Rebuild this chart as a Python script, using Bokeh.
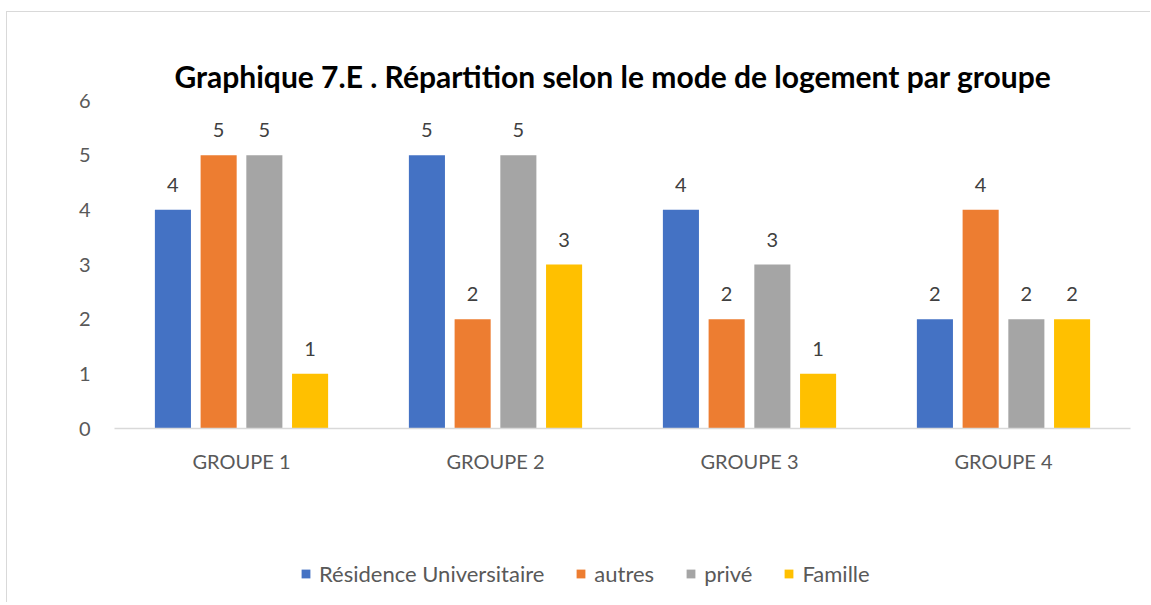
from bokeh.plotting import figure
from bokeh.models import ColumnDataSource, FactorRange, Legend, LegendItem, FixedTicker
from bokeh.layouts import column
from bokeh.transform import dodge
from bokeh.core.properties import value
from bokeh.embed import file_html
from bokeh.resources import INLINE

groups = ["GROUPE 1", "GROUPE 2", "GROUPE 3", "GROUPE 4"]
series = ["Résidence Universitaire", "autres", "privé", "Famille"]
residence = [4, 5, 4, 2]
autres = [5, 2, 2, 4]
prive = [5, 5, 3, 2]
famille = [1, 3, 1, 2]
colors = ["#4472C4", "#ED7D31", "#A5A5A5", "#FFC000"]
y_ticks = [0, 1, 2, 3, 4, 5, 6]
title_text = "Graphique 7.E . Répartition selon le mode de logement par groupe"

cols = ["residence", "autres", "prive", "famille"]
data = dict(groups=groups, residence=residence, autres=autres, prive=prive, famille=famille)
for c in cols:
    data[c + "_lbl"] = [str(v) for v in data[c]]
source = ColumnDataSource(data)

FONT = "Lato"
W = 1143
H1 = 500
H2 = 90
p = figure(width=W, height=H1, x_range=FactorRange(*groups, range_padding=0),
           y_range=(0, 6), output_backend="svg", toolbar_location=None,
           min_border_left=107, min_border_right=20, min_border_top=88, min_border_bottom=H1 - 416)

p.title.text = title_text
p.title.align = "left"
p.title.offset = 60
p.title.text_font = FONT
p.title.text_font_size = "30px"
p.title.text_font_style = "bold"
p.title.text_color = "#000000"
p.title.standoff = 13

p.outline_line_color = None
p.xgrid.grid_line_color = None
p.ygrid.grid_line_color = None

offsets = [-0.27, -0.09, 0.09, 0.27]
for c, off, col in zip(cols, offsets, colors):
    p.vbar(x=dodge("groups", off, range=p.x_range), top=c, width=0.142,
           source=source, fill_color=col, line_color=None)
    p.text(x=dodge("groups", off, range=p.x_range), y=c, text=c + "_lbl", source=source,
           text_align="center", text_baseline="bottom", y_offset=-18,
           text_font=value(FONT), text_font_size="20px", text_color="#404040")

p.yaxis.ticker = FixedTicker(ticks=y_ticks)
p.yaxis.axis_line_color = None
p.yaxis.major_tick_line_color = None
p.yaxis.minor_tick_line_color = None
p.yaxis.major_label_standoff = 18
p.yaxis.major_label_text_font = FONT
p.yaxis.major_label_text_font_size = "20px"
p.yaxis.major_label_text_color = "#595959"

p.xaxis.axis_line_color = "#d9d9d9"
p.xaxis.axis_line_width = 1.5
p.xaxis.major_tick_line_color = None
p.xaxis.minor_tick_line_color = None
p.xaxis.major_label_standoff = 14
p.xaxis.major_label_text_font = FONT
p.xaxis.major_label_text_font_size = "20px"
p.xaxis.major_label_text_color = "#595959"

# legend strip below the chart (zero-height bars only carry the legend colours)
legend_src = ColumnDataSource(dict(series=series, color=colors,
                                   x=[0.5] * len(series), top=[0] * len(series)))
q = figure(width=W, height=H2, x_range=(0, 1), y_range=(0, 1), output_backend="svg",
           toolbar_location=None, x_axis_location=None, y_axis_location=None,
           min_border=0, min_border_left=0, min_border_right=0, min_border_top=0,
           min_border_bottom=0)
q.outline_line_color = None
q.grid.visible = False
r = q.vbar(x="x", top="top", width=0.001, fill_color="color", line_color=None,
           source=legend_src)
items = [LegendItem(label=name, renderers=[r], index=i) for i, name in enumerate(series)]
legend = Legend(items=items, orientation="horizontal", location=(186, 15),
                glyph_width=11, glyph_height=11, label_standoff=8, spacing=31,
                label_height=20, padding=0, margin=0, border_line_color=None,
                background_fill_alpha=0, label_text_font=FONT,
                label_text_font_size="22px", label_text_color="#595959")
q.add_layout(legend, "center")

layout = column(p, q, spacing=0,
                styles={"border-top": "1px solid #d9d9d9", "border-left": "1px solid #d9d9d9",
                        "margin-left": "6px", "margin-top": "11px"})

open("out.html", "w").write(file_html(layout, INLINE))
